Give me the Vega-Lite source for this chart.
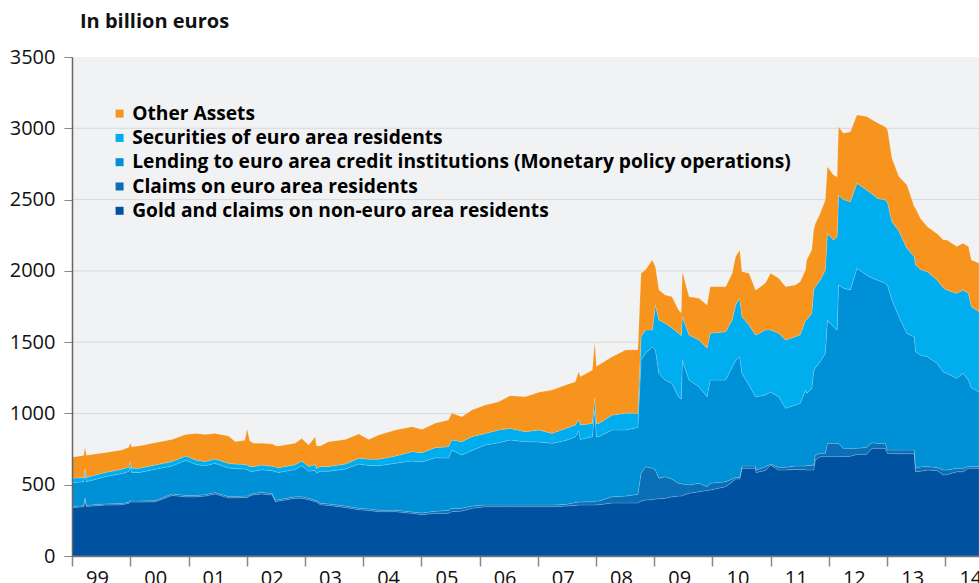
{
  "$schema": "https://vega.github.io/schema/vega-lite/v6.json",
  "width": 907,
  "height": 499,
  "autosize": {"type": "none"},
  "padding": {"left": 72, "top": 57, "right": 0, "bottom": 27},
  "background": "#ffffff",
  "view": {"fill": "#f1f2f4", "stroke": null},
  "title": {
    "text": "In billion euros",
    "anchor": "start",
    "frame": "group",
    "dx": 8,
    "dy": 1,
    "offset": 0,
    "baseline": "alphabetic",
    "font": "Open Sans",
    "fontSize": 20,
    "fontWeight": "bold",
    "color": "#111111"
  },
  "datasets": {
    "names": [
      {"k": "g", "name": "Gold and claims on non-euro area residents", "rank": 1},
      {"k": "c", "name": "Claims on euro area residents", "rank": 2},
      {"k": "l", "name": "Lending to euro area credit institutions (Monetary policy operations)", "rank": 3},
      {"k": "s", "name": "Securities of euro area residents", "rank": 4},
      {"k": "o", "name": "Other Assets", "rank": 5}
    ],
    "grid": [{"gy": 500}, {"gy": 1000}, {"gy": 1500}, {"gy": 2000}, {"gy": 2500}, {"gy": 3000}],
    "bs": [
      {"d": "1999-01-01", "g": 340, "c": 8, "l": 167, "s": 30, "o": 147},
      {"d": "1999-03-15", "g": 345, "c": 8, "l": 167, "s": 30, "o": 155},
      {"d": "1999-03-24", "g": 400, "c": 8, "l": 172, "s": 32, "o": 150},
      {"d": "1999-04-01", "g": 348, "c": 8, "l": 165, "s": 30, "o": 155},
      {"d": "1999-07-26", "g": 357, "c": 8, "l": 190, "s": 30, "o": 140},
      {"d": "1999-11-10", "g": 360, "c": 8, "l": 210, "s": 30, "o": 135},
      {"d": "1999-12-24", "g": 370, "c": 8, "l": 215, "s": 30, "o": 140},
      {"d": "2000-01-01", "g": 380, "c": 8, "l": 244, "s": 30, "o": 133},
      {"d": "2000-01-10", "g": 378, "c": 8, "l": 200, "s": 30, "o": 150},
      {"d": "2000-02-25", "g": 378, "c": 8, "l": 199, "s": 30, "o": 156},
      {"d": "2000-06-05", "g": 380, "c": 8, "l": 220, "s": 30, "o": 157},
      {"d": "2000-09-20", "g": 425, "c": 10, "l": 197, "s": 30, "o": 156},
      {"d": "2000-12-15", "g": 415, "c": 10, "l": 246, "s": 30, "o": 152},
      {"d": "2001-02-15", "g": 415, "c": 10, "l": 218, "s": 30, "o": 187},
      {"d": "2001-04-15", "g": 420, "c": 10, "l": 202, "s": 30, "o": 191},
      {"d": "2001-06-15", "g": 435, "c": 10, "l": 205, "s": 30, "o": 180},
      {"d": "2001-09-08", "g": 408, "c": 10, "l": 200, "s": 32, "o": 192},
      {"d": "2001-10-22", "g": 408, "c": 10, "l": 195, "s": 32, "o": 157},
      {"d": "2001-12-20", "g": 410, "c": 10, "l": 190, "s": 32, "o": 170},
      {"d": "2002-01-04", "g": 410, "c": 10, "l": 186, "s": 32, "o": 253},
      {"d": "2002-01-20", "g": 420, "c": 10, "l": 165, "s": 32, "o": 180},
      {"d": "2002-02-15", "g": 430, "c": 10, "l": 155, "s": 32, "o": 163},
      {"d": "2002-04-05", "g": 435, "c": 10, "l": 160, "s": 33, "o": 152},
      {"d": "2002-06-10", "g": 428, "c": 10, "l": 160, "s": 32, "o": 155},
      {"d": "2002-06-30", "g": 381, "c": 10, "l": 200, "s": 33, "o": 150},
      {"d": "2002-07-20", "g": 385, "c": 10, "l": 191, "s": 33, "o": 152},
      {"d": "2002-11-01", "g": 405, "c": 10, "l": 192, "s": 33, "o": 150},
      {"d": "2002-12-12", "g": 405, "c": 10, "l": 218, "s": 33, "o": 159},
      {"d": "2003-01-25", "g": 395, "c": 10, "l": 190, "s": 33, "o": 151},
      {"d": "2003-03-07", "g": 381, "c": 10, "l": 210, "s": 40, "o": 196},
      {"d": "2003-03-14", "g": 380, "c": 10, "l": 190, "s": 33, "o": 160},
      {"d": "2003-04-08", "g": 360, "c": 10, "l": 225, "s": 33, "o": 143},
      {"d": "2003-05-30", "g": 355, "c": 10, "l": 230, "s": 32, "o": 175},
      {"d": "2003-09-12", "g": 340, "c": 10, "l": 260, "s": 35, "o": 173},
      {"d": "2003-12-05", "g": 325, "c": 10, "l": 310, "s": 40, "o": 171},
      {"d": "2004-02-06", "g": 320, "c": 10, "l": 305, "s": 43, "o": 140},
      {"d": "2004-04-08", "g": 311, "c": 10, "l": 312, "s": 45, "o": 171},
      {"d": "2004-07-23", "g": 311, "c": 10, "l": 330, "s": 50, "o": 183},
      {"d": "2004-11-03", "g": 299, "c": 10, "l": 358, "s": 65, "o": 175},
      {"d": "2005-01-05", "g": 290, "c": 12, "l": 358, "s": 65, "o": 163},
      {"d": "2005-03-28", "g": 299, "c": 15, "l": 376, "s": 70, "o": 171},
      {"d": "2005-06-20", "g": 300, "c": 20, "l": 367, "s": 80, "o": 187},
      {"d": "2005-07-10", "g": 311, "c": 23, "l": 409, "s": 71, "o": 187},
      {"d": "2005-09-12", "g": 315, "c": 20, "l": 373, "s": 94, "o": 175},
      {"d": "2005-11-14", "g": 335, "c": 15, "l": 390, "s": 97, "o": 187},
      {"d": "2006-02-06", "g": 346, "c": 12, "l": 421, "s": 81, "o": 199},
      {"d": "2006-05-01", "g": 346, "c": 12, "l": 437, "s": 89, "o": 198},
      {"d": "2006-07-12", "g": 346, "c": 12, "l": 456, "s": 81, "o": 229},
      {"d": "2006-10-15", "g": 346, "c": 12, "l": 444, "s": 70, "o": 245},
      {"d": "2007-01-08", "g": 346, "c": 12, "l": 442, "s": 84, "o": 264},
      {"d": "2007-04-01", "g": 346, "c": 12, "l": 432, "s": 70, "o": 304},
      {"d": "2007-06-25", "g": 350, "c": 12, "l": 448, "s": 85, "o": 304},
      {"d": "2007-08-25", "g": 355, "c": 20, "l": 462, "s": 82, "o": 304},
      {"d": "2007-09-15", "g": 358, "c": 20, "l": 500, "s": 80, "o": 335},
      {"d": "2007-09-25", "g": 358, "c": 20, "l": 440, "s": 101, "o": 339},
      {"d": "2007-12-10", "g": 358, "c": 23, "l": 456, "s": 93, "o": 375},
      {"d": "2007-12-24", "g": 358, "c": 23, "l": 640, "s": 85, "o": 397},
      {"d": "2008-01-04", "g": 360, "c": 25, "l": 452, "s": 93, "o": 400},
      {"d": "2008-01-18", "g": 360, "c": 25, "l": 452, "s": 93, "o": 410},
      {"d": "2008-04-12", "g": 372, "c": 44, "l": 468, "s": 105, "o": 409},
      {"d": "2008-07-05", "g": 372, "c": 48, "l": 464, "s": 117, "o": 444},
      {"d": "2008-09-20", "g": 372, "c": 60, "l": 470, "s": 100, "o": 445},
      {"d": "2008-10-10", "g": 385, "c": 195, "l": 795, "s": 163, "o": 445},
      {"d": "2008-11-06", "g": 393, "c": 233, "l": 796, "s": 163, "o": 421},
      {"d": "2008-12-20", "g": 395, "c": 220, "l": 853, "s": 117, "o": 491},
      {"d": "2009-01-08", "g": 400, "c": 203, "l": 842, "s": 315, "o": 269},
      {"d": "2009-01-30", "g": 402, "c": 143, "l": 736, "s": 374, "o": 211},
      {"d": "2009-03-10", "g": 405, "c": 151, "l": 678, "s": 398, "o": 199},
      {"d": "2009-04-22", "g": 416, "c": 124, "l": 671, "s": 389, "o": 219},
      {"d": "2009-06-02", "g": 420, "c": 90, "l": 607, "s": 445, "o": 163},
      {"d": "2009-06-19", "g": 420, "c": 90, "l": 590, "s": 445, "o": 160},
      {"d": "2009-06-26", "g": 425, "c": 80, "l": 870, "s": 303, "o": 316},
      {"d": "2009-08-07", "g": 440, "c": 58, "l": 736, "s": 316, "o": 269},
      {"d": "2009-10-08", "g": 451, "c": 59, "l": 678, "s": 327, "o": 292},
      {"d": "2009-11-28", "g": 460, "c": 26, "l": 631, "s": 340, "o": 303},
      {"d": "2009-12-18", "g": 463, "c": 47, "l": 724, "s": 328, "o": 327},
      {"d": "2010-03-25", "g": 486, "c": 35, "l": 713, "s": 339, "o": 316},
      {"d": "2010-05-05", "g": 520, "c": 20, "l": 788, "s": 327, "o": 328},
      {"d": "2010-05-26", "g": 540, "c": 10, "l": 820, "s": 390, "o": 339},
      {"d": "2010-06-21", "g": 540, "c": 10, "l": 848, "s": 409, "o": 339},
      {"d": "2010-07-05", "g": 615, "c": 16, "l": 650, "s": 397, "o": 316},
      {"d": "2010-08-18", "g": 615, "c": 16, "l": 569, "s": 420, "o": 363},
      {"d": "2010-09-28", "g": 615, "c": 16, "l": 486, "s": 433, "o": 316},
      {"d": "2010-10-02", "g": 585, "c": 18, "l": 514, "s": 433, "o": 316},
      {"d": "2010-11-28", "g": 600, "c": 26, "l": 503, "s": 456, "o": 328},
      {"d": "2011-01-01", "g": 638, "c": 7, "l": 505, "s": 435, "o": 398},
      {"d": "2011-02-20", "g": 603, "c": 19, "l": 495, "s": 445, "o": 386},
      {"d": "2011-04-05", "g": 603, "c": 19, "l": 414, "s": 479, "o": 374},
      {"d": "2011-06-05", "g": 608, "c": 23, "l": 428, "s": 479, "o": 363},
      {"d": "2011-07-05", "g": 605, "c": 26, "l": 440, "s": 480, "o": 373},
      {"d": "2011-08-08", "g": 608, "c": 23, "l": 533, "s": 491, "o": 351},
      {"d": "2011-08-15", "g": 603, "c": 31, "l": 507, "s": 514, "o": 421},
      {"d": "2011-09-16", "g": 603, "c": 32, "l": 541, "s": 526, "o": 444},
      {"d": "2011-09-28", "g": 603, "c": 35, "l": 655, "s": 573, "o": 421},
      {"d": "2011-10-08", "g": 673, "c": 35, "l": 612, "s": 570, "o": 440},
      {"d": "2011-11-08", "g": 697, "c": 23, "l": 643, "s": 573, "o": 468},
      {"d": "2011-12-10", "g": 697, "c": 23, "l": 702, "s": 584, "o": 491},
      {"d": "2011-12-23", "g": 697, "c": 93, "l": 865, "s": 608, "o": 468},
      {"d": "2012-01-30", "g": 697, "c": 93, "l": 818, "s": 608, "o": 456},
      {"d": "2012-02-22", "g": 697, "c": 93, "l": 795, "s": 655, "o": 418},
      {"d": "2012-03-02", "g": 697, "c": 93, "l": 1111, "s": 631, "o": 479},
      {"d": "2012-04-01", "g": 697, "c": 58, "l": 1125, "s": 620, "o": 465},
      {"d": "2012-05-15", "g": 700, "c": 55, "l": 1111, "s": 619, "o": 491},
      {"d": "2012-06-25", "g": 713, "c": 42, "l": 1263, "s": 596, "o": 479},
      {"d": "2012-08-25", "g": 713, "c": 48, "l": 1210, "s": 596, "o": 515},
      {"d": "2012-09-28", "g": 755, "c": 40, "l": 1155, "s": 590, "o": 520},
      {"d": "2012-10-30", "g": 755, "c": 35, "l": 1146, "s": 573, "o": 530},
      {"d": "2012-12-20", "g": 755, "c": 35, "l": 1123, "s": 584, "o": 514},
      {"d": "2013-01-03", "g": 720, "c": 23, "l": 1157, "s": 580, "o": 510},
      {"d": "2013-01-31", "g": 720, "c": 23, "l": 1053, "s": 549, "o": 444},
      {"d": "2013-03-15", "g": 717, "c": 26, "l": 936, "s": 601, "o": 381},
      {"d": "2013-05-05", "g": 717, "c": 26, "l": 818, "s": 597, "o": 444},
      {"d": "2013-06-20", "g": 717, "c": 26, "l": 795, "s": 562, "o": 350},
      {"d": "2013-06-28", "g": 591, "c": 24, "l": 818, "s": 608, "o": 398},
      {"d": "2013-07-28", "g": 595, "c": 30, "l": 785, "s": 600, "o": 359},
      {"d": "2013-09-10", "g": 603, "c": 24, "l": 771, "s": 596, "o": 316},
      {"d": "2013-11-10", "g": 600, "c": 20, "l": 732, "s": 584, "o": 324},
      {"d": "2013-12-20", "g": 568, "c": 35, "l": 687, "s": 590, "o": 336},
      {"d": "2014-01-10", "g": 570, "c": 33, "l": 678, "s": 585, "o": 350},
      {"d": "2014-03-14", "g": 591, "c": 24, "l": 631, "s": 596, "o": 328},
      {"d": "2014-04-22", "g": 591, "c": 24, "l": 666, "s": 585, "o": 327},
      {"d": "2014-05-26", "g": 615, "c": 12, "l": 607, "s": 608, "o": 328},
      {"d": "2014-06-13", "g": 615, "c": 12, "l": 553, "s": 569, "o": 327},
      {"d": "2014-07-31", "g": 615, "c": 12, "l": 525, "s": 562, "o": 339}
    ]
  },
  "layer": [
    {
      "data": {"name": "grid"},
      "mark": {"type": "rule", "color": "#d9dadc", "strokeWidth": 1},
      "encoding": {
        "y": {"field": "gy", "type": "quantitative"}
      }
    },
    {
      "data": {"name": "bs"},
      "transform": [
        {"fold": ["g", "c", "l", "s", "o"], "as": ["k", "v"]},
        {"lookup": "k", "from": {"data": {"name": "names"}, "key": "k", "fields": ["name", "rank"]}}
      ],
      "mark": {"type": "area", "interpolate": "linear", "clip": true, "stroke": "#ffffff", "strokeWidth": 0.6, "strokeOpacity": 0.25},
      "encoding": {
        "x": {
          "field": "d",
          "type": "temporal",
          "scale": {"type": "utc", "domain": [{"year": 1999, "month": 1, "date": 1, "utc": true}, {"year": 2014, "month": 7, "date": 31, "utc": true}], "nice": false},
          "axis": {
            "title": null,
            "grid": false,
            "format": "%y",
            "tickCount": {"interval": "year", "step": 1},
            "labelOffset": 25,
            "labelAlign": "center",
            "labelFlush": false,
            "labelBound": false,
            "labelOverlap": false,
            "labelPadding": 2,
            "labelBaseline": "top",
            "labelFont": "Open Sans",
            "labelFontSize": 20,
            "labelColor": "#111111",
            "tickSize": 10,
            "tickColor": "#888888",
            "tickWidth": 1.5,
            "domainColor": "#777777",
            "domainWidth": 1.5,
            "zindex": 1
          }
        },
        "y": {
          "field": "v",
          "type": "quantitative",
          "stack": "zero",
          "scale": {"domain": [0, 3500], "nice": false},
          "axis": {
            "title": null,
            "values": [0, 500, 1000, 1500, 2000, 2500, 3000, 3500],
            "format": "d",
            "grid": false,
            "labelFont": "Open Sans",
            "labelFontSize": 20,
            "labelColor": "#111111",
            "labelPadding": 9,
            "tickSize": 8,
            "tickColor": "#888888",
            "tickWidth": 1,
            "domainColor": "#666666",
            "domainWidth": 1.5,
            "zindex": 1
          }
        },
        "color": {
          "field": "name",
          "type": "nominal",
          "scale": {
            "domain": ["Other Assets", "Securities of euro area residents", "Lending to euro area credit institutions (Monetary policy operations)", "Claims on euro area residents", "Gold and claims on non-euro area residents"],
            "range": ["#f7941e", "#00adee", "#0090d5", "#0a6fb6", "#0052a1"]
          },
          "legend": {
            "title": null,
            "orient": "none",
            "legendX": 38,
            "legendY": 47,
            "padding": 0,
            "symbolType": "square",
            "symbolSize": 64,
            "symbolStrokeWidth": 0,
            "symbolOffset": 0,
            "labelFont": "Open Sans",
            "labelFontSize": 19.2,
            "labelFontWeight": "bold",
            "labelLimit": 2000,
            "labelOffset": 3,
            "rowPadding": 4.3,
            "encode": {
              "labels": {"update": {"fill": {"scale": "color", "field": "value"}}}
            }
          }
        },
        "order": {"field": "rank", "type": "quantitative", "sort": "ascending"}
      }
    }
  ]
}
